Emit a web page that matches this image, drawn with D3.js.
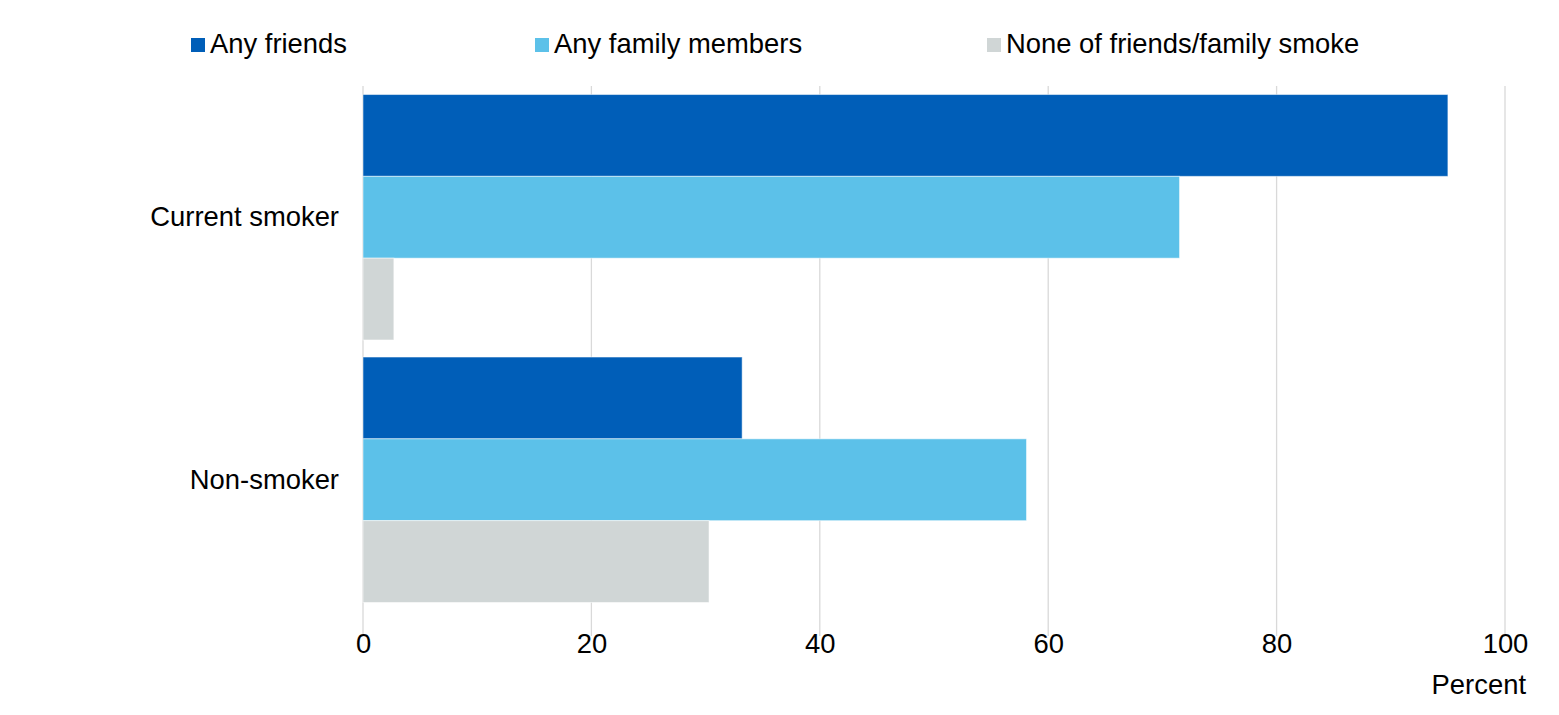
<!DOCTYPE html>
<html>
<head>
<meta charset="utf-8">
<script src="https://cdn.jsdelivr.net/npm/d3@7"></script>
<style>
    body { margin: 0; background: #fff; }
    svg text { font-family: "Liberation Sans", Arial, sans-serif; fill: #000; }
</style>
</head>
<body>
<div id="chart"></div>
<script>
// Chart data
const categories = ['Current smoker', 'Non-smoker'];
const seriesNames = ['Any friends', 'Any family members', 'None of friends/family smoke'];
const anyFriends = [95, 33.2];
const anyFamily = [71.5, 58.1];
const noneSmoke = [2.7, 30.3];
const xTicks = [0, 20, 40, 60, 80, 100];
const axisTitle = 'Percent';

const colors = ['#005EB8', '#5CC1E9', '#D0D6D6'];
const seriesValues = [anyFriends, anyFamily, noneSmoke];

const W = 1559, H = 715;
const margin = { top: 86, right: 54, bottom: 104, left: 363 };
const width = W - margin.left - margin.right;
const height = H - margin.top - margin.bottom;
const fontSize = 27.4;

const svg = d3.select('#chart')
    .append('svg')
    .attr('width', W)
    .attr('height', H);

const g = svg.append('g')
    .attr('transform', `translate(${margin.left},${margin.top})`);

// Scales
const x = d3.scaleLinear()
    .domain([0, 100])
    .range([0, width]);

const y0 = d3.scaleBand()
    .domain(categories)
    .range([0, height])
    .paddingInner(0.065)
    .paddingOuter(0.0325);

const y1 = d3.scaleBand()
    .domain(seriesNames)
    .range([0, y0.bandwidth()]);

// Grid lines
g.append('g')
    .selectAll('line')
    .data(xTicks)
    .join('line')
    .attr('x1', d => x(d))
    .attr('x2', d => x(d))
    .attr('y1', 0)
    .attr('y2', height + 25)
    .attr('stroke', '#d9d9d9')
    .attr('stroke-width', 1.3);

// Bars
const rows = [];
categories.forEach((c, i) => {
    seriesNames.forEach((s, j) => {
        rows.push({ cat: c, series: s, value: seriesValues[j][i], color: colors[j] });
    });
});

g.append('g')
    .selectAll('rect')
    .data(rows)
    .join('rect')
    .attr('x', x(0))
    .attr('y', d => y0(d.cat) + y1(d.series))
    .attr('width', d => x(d.value) - x(0))
    .attr('height', y1.bandwidth())
    .attr('fill', d => d.color)
    .attr('stroke', '#ffffff')
    .attr('stroke-opacity', 0.5)
    .attr('stroke-width', 1);

// X axis labels
const xAxis = g.append('g')
    .attr('transform', `translate(0,${height})`)
    .call(d3.axisBottom(x).tickValues(xTicks).tickSize(0).tickPadding(23));
xAxis.select('.domain').remove();
xAxis.selectAll('text')
    .style('font-size', fontSize + 'px')
    .style('font-family', '"Liberation Sans", Arial, sans-serif')
    .attr('fill', '#000');

// Y axis labels
const yAxis = g.append('g')
    .call(d3.axisLeft(y0).tickSize(0).tickPadding(24));
yAxis.select('.domain').remove();
yAxis.selectAll('text')
    .style('font-size', fontSize + 'px')
    .style('font-family', '"Liberation Sans", Arial, sans-serif')
    .attr('fill', '#000');

// Axis title
svg.append('text')
    .attr('x', 1526)
    .attr('y', 694)
    .attr('text-anchor', 'end')
    .style('font-size', fontSize + 'px')
    .text(axisTitle);

// Legend
const legendX = [191, 535, 987];
const legend = svg.append('g')
    .selectAll('g')
    .data(seriesNames)
    .join('g')
    .attr('transform', (d, i) => `translate(${legendX[i]},38)`);

legend.append('rect')
    .attr('width', 14)
    .attr('height', 14)
    .attr('fill', (d, i) => colors[i]);

legend.append('text')
    .attr('x', 19)
    .attr('y', 15)
    .style('font-size', fontSize + 'px')
    .text(d => d);
</script>
</body>
</html>
